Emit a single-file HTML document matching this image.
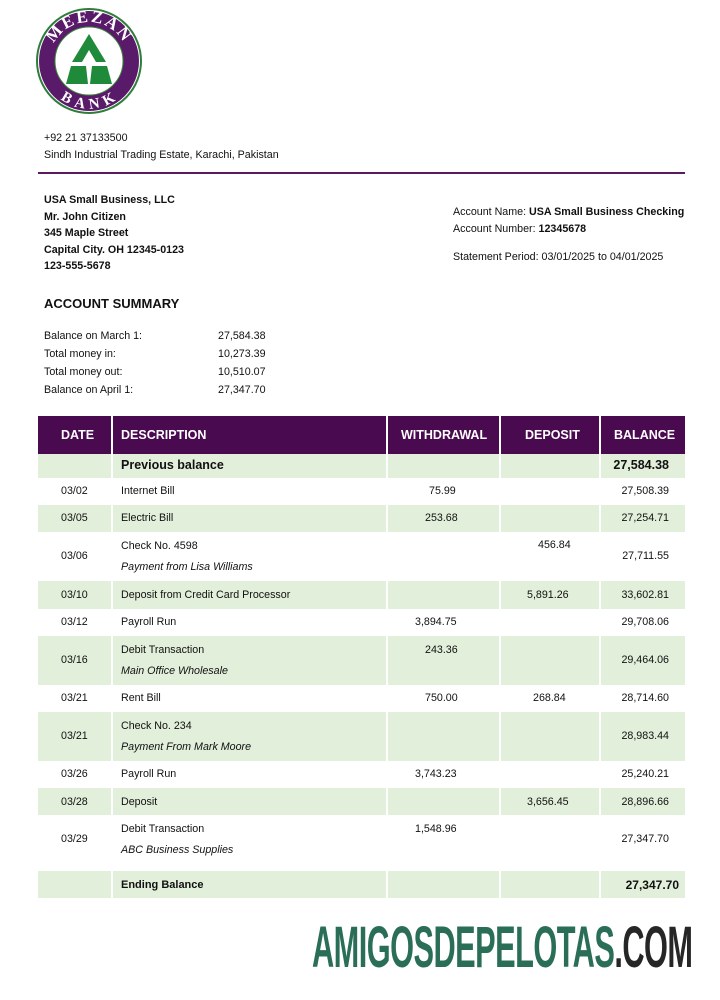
<!DOCTYPE html>
<html><head><meta charset="utf-8"><style>
body{margin:0;width:720px;height:1000px;background:#fff;position:relative;font-family:"Liberation Sans",sans-serif;color:#111;overflow:hidden}
.a{position:absolute;white-space:nowrap}
.t{font-size:10.7px}
.b{font-weight:bold}
.row{position:absolute;left:38px;width:647px}
.g{background:#e2efda}
.sep{position:absolute;top:416px;width:2px;height:482px;background:#fff}
.r{text-align:right}
.h{color:#fff;font-size:12.5px;font-weight:bold}
</style></head><body>
<svg class="a" style="left:36px;top:4px" width="106" height="114" viewBox="0 0 106 114">
<circle cx="53" cy="57" r="52" fill="#fff" stroke="#2e7d3a" stroke-width="2"/>
<circle cx="53" cy="57" r="50" fill="#5a1a6a"/>
<circle cx="53" cy="57" r="34" fill="#fff" stroke="#3b8a3b" stroke-width="1"/>
<polygon points="53,30 70,58 60,58 53,46 46,58 36,58" fill="#1e8a3a"/>
<polygon points="35,62 50,62 52,80 30,80" fill="#1e8a3a"/>
<polygon points="56,62 71,62 76,80 54,80" fill="#1e8a3a"/>
<path id="tp" d="M14,57 A39,39 0 0 1 92,57" fill="none"/>
<text font-family="Liberation Serif,serif" font-weight="bold" font-size="17" fill="#fff" letter-spacing="2"><textPath href="#tp" startOffset="50%" text-anchor="middle">MEEZAN</textPath></text>
<path id="bp" d="M18,70 A37,37 0 0 0 88,70" fill="none"/>
<text font-family="Liberation Serif,serif" font-weight="bold" font-size="15" fill="#fff" letter-spacing="2"><textPath href="#bp" startOffset="50%" text-anchor="middle" dominant-baseline="hanging">BANK</textPath></text>
</svg>
<div class="a t" style="left:44px;top:132px">+92 21 37133500</div>
<div class="a t" style="left:44px;top:149px">Sindh Industrial Trading Estate, Karachi, Pakistan</div>
<div class="a" style="left:38px;top:172px;width:647px;height:2px;background:#5a1a5e"></div>
<div class="a t b" style="left:44px;top:192px;line-height:16.5px">USA Small Business, LLC<br>Mr. John Citizen<br>345 Maple Street<br>Capital City. OH 12345-0123<br>123-555-5678</div>
<div class="a t" style="left:453px;top:204px;line-height:16.5px">Account Name: <b>USA Small Business Checking</b><br>Account Number: <b>12345678</b></div>
<div class="a t" style="left:453px;top:251px">Statement Period: 03/01/2025 to 04/01/2025</div>
<div class="a b" style="left:44px;top:296px;font-size:13px">ACCOUNT SUMMARY</div>
<div class="a t" style="left:44px;top:327px;line-height:18px">Balance on March 1:<br>Total money in:<br>Total money out:<br>Balance on April 1:</div>
<div class="a t" style="left:218px;top:327px;line-height:18px">27,584.38<br>10,273.39<br>10,510.07<br>27,347.70</div>

<div class="row" style="top:416px;height:38px;background:#4a0a50"></div>
<div class="row g" style="top:454px;height:24px"></div>
<div class="row g" style="top:505px;height:27px"></div>
<div class="row g" style="top:581px;height:28px"></div>
<div class="row g" style="top:636px;height:49px"></div>
<div class="row g" style="top:712px;height:49px"></div>
<div class="row g" style="top:788px;height:27px"></div>
<div class="row g" style="top:871px;height:27px"></div>
<div class="sep" style="left:111px"></div><div class="sep" style="left:386px"></div><div class="sep" style="left:499px"></div><div class="sep" style="left:599px"></div>
<div class="a" style="left:38px;top:860px;width:647px;height:11px;background:#fff"></div>

<div class="a h" style="left:61px;top:428px">DATE</div>
<div class="a h" style="left:121px;top:428px">DESCRIPTION</div>
<div class="a h" style="left:401px;top:428px">WITHDRAWAL</div>
<div class="a h" style="left:525px;top:428px">DEPOSIT</div>
<div class="a h" style="left:614px;top:428px">BALANCE</div>
<div class="a b" style="left:121px;top:458px;font-size:12.5px">Previous balance</div>
<div class="a b r" style="left:580px;width:89px;top:458px;font-size:12.5px">27,584.38</div>

<div class="a t" style="left:0;top:0;width:720px">
<div class="a" style="left:61px;top:485px">03/02</div><div class="a" style="left:121px;top:485px">Internet Bill</div><div class="a" style="left:429px;top:485px">75.99</div><div class="a r" style="left:580px;width:89px;top:485px">27,508.39</div>
<div class="a" style="left:61px;top:512px">03/05</div><div class="a" style="left:121px;top:512px">Electric Bill</div><div class="a" style="left:425px;top:512px">253.68</div><div class="a r" style="left:580px;width:89px;top:512px">27,254.71</div>
<div class="a" style="left:61px;top:550px">03/06</div><div class="a" style="left:121px;top:540px">Check No. 4598</div><div class="a" style="left:121px;top:561px;font-style:italic">Payment from Lisa Williams</div><div class="a" style="left:538px;top:539px">456.84</div><div class="a r" style="left:580px;width:89px;top:550px">27,711.55</div>
<div class="a" style="left:61px;top:589px">03/10</div><div class="a" style="left:121px;top:589px">Deposit from Credit Card Processor</div><div class="a" style="left:527px;top:589px">5,891.26</div><div class="a r" style="left:580px;width:89px;top:589px">33,602.81</div>
<div class="a" style="left:61px;top:616px">03/12</div><div class="a" style="left:121px;top:616px">Payroll Run</div><div class="a" style="left:415px;top:616px">3,894.75</div><div class="a r" style="left:580px;width:89px;top:616px">29,708.06</div>
<div class="a" style="left:61px;top:654px">03/16</div><div class="a" style="left:121px;top:644px">Debit Transaction</div><div class="a" style="left:121px;top:665px;font-style:italic">Main Office Wholesale</div><div class="a" style="left:425px;top:644px">243.36</div><div class="a r" style="left:580px;width:89px;top:654px">29,464.06</div>
<div class="a" style="left:61px;top:692px">03/21</div><div class="a" style="left:121px;top:692px">Rent Bill</div><div class="a" style="left:425px;top:692px">750.00</div><div class="a" style="left:533px;top:692px">268.84</div><div class="a r" style="left:580px;width:89px;top:692px">28,714.60</div>
<div class="a" style="left:61px;top:730px">03/21</div><div class="a" style="left:121px;top:720px">Check No. 234</div><div class="a" style="left:121px;top:741px;font-style:italic">Payment From Mark Moore</div><div class="a r" style="left:580px;width:89px;top:730px">28,983.44</div>
<div class="a" style="left:61px;top:768px">03/26</div><div class="a" style="left:121px;top:768px">Payroll Run</div><div class="a" style="left:415px;top:768px">3,743.23</div><div class="a r" style="left:580px;width:89px;top:768px">25,240.21</div>
<div class="a" style="left:61px;top:796px">03/28</div><div class="a" style="left:121px;top:796px">Deposit</div><div class="a" style="left:527px;top:796px">3,656.45</div><div class="a r" style="left:580px;width:89px;top:796px">28,896.66</div>
<div class="a" style="left:61px;top:833px">03/29</div><div class="a" style="left:121px;top:823px">Debit Transaction</div><div class="a" style="left:121px;top:844px;font-style:italic">ABC Business Supplies</div><div class="a" style="left:415px;top:823px">1,548.96</div><div class="a r" style="left:580px;width:89px;top:833px">27,347.70</div>
</div>
<div class="a t b" style="left:121px;top:879px;font-size:11px">Ending Balance</div>
<div class="a b r" style="left:580px;width:99px;top:878px;font-size:12px">27,347.70</div>

<div class="a b" style="left:312px;top:916px;font-size:58px;line-height:64px;letter-spacing:-1px;transform:scaleX(0.53);transform-origin:left top;color:#2a6e57">AMIGOSDEPELOTAS<span style="color:#262626">.COM</span></div>
</body></html>
